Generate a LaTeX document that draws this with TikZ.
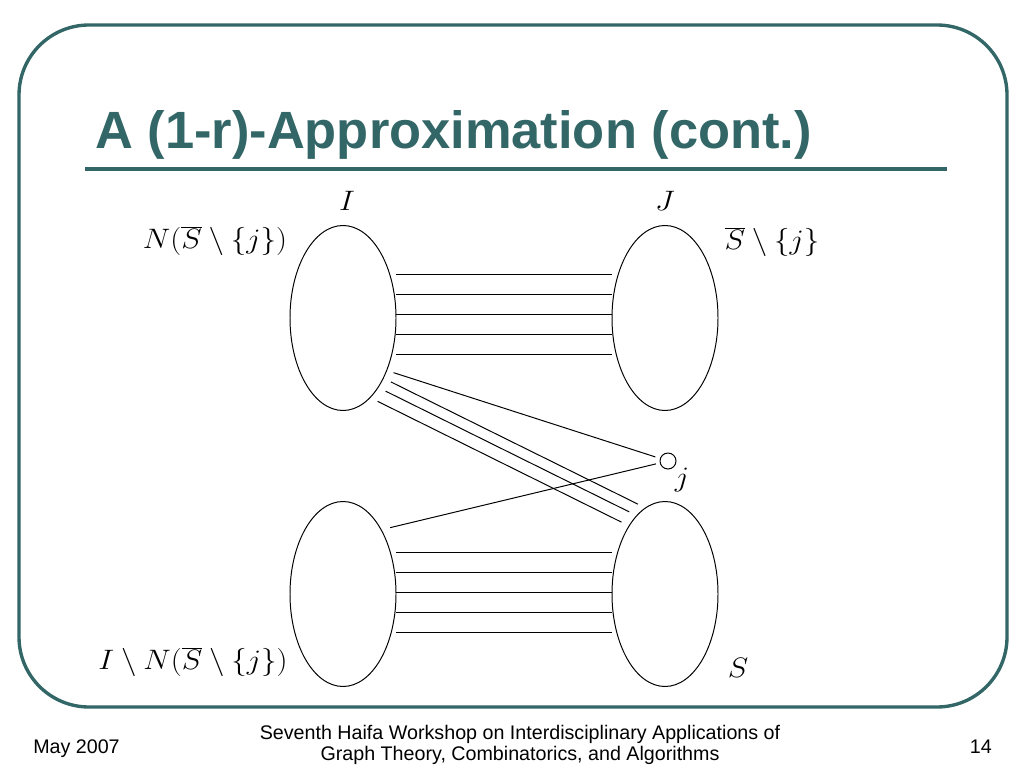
\RequirePackage{fix-cm}
\documentclass[tikz,border=0pt]{standalone}
\usepackage{fontspec}
\setmainfont{Liberation Sans}
\usetikzlibrary{shapes.geometric}
\definecolor{slide}{RGB}{51,102,102}

\begin{document}
\begin{tikzpicture}[
    set/.style={ellipse, draw=black, line width=0.7pt, inner sep=0pt, minimum width=2.65cm, minimum height=4.625cm},
    vertex/.style={circle, draw=black, line width=0.7pt, inner sep=0pt, minimum size=0.4cm},
    edge/.style={line width=0.7pt},
    cross/.style={edge, shorten <=0.2cm, shorten >=0.2cm},
    lbl/.style={font=\fontsize{20}{24}\selectfont, inner sep=0pt, xscale=1.1},
    foot/.style={font=\fontsize{14}{15}\selectfont, inner sep=0pt}
]
\useasboundingbox (0,0) rectangle (25.6,-19.2);

% Cadre et titre
\draw[slide, line width=2.4pt, rounded corners=1.75cm] (0.475,-0.625) rectangle (25.175,-17.675);
\node[anchor=base west, inner sep=0pt, text=slide, font=\fontsize{37.3}{40}\selectfont\bfseries] (title) at (2.375,-3.725) {A (1-r)-Approximation (cont.)};
\draw[slide, line width=2.8pt] (2.125,-4.225) -- (23.675,-4.225);

% Les quatre ensembles
\node[set] (I) at (8.575,-7.95) {};
\node[set] (J) at (16.625,-7.95) {};
\node[set] (R) at (8.575,-14.85) {};
\node[set] (S) at (16.625,-14.85) {};
\node[vertex] (j) at (16.7,-11.525) {};

% Etiquettes
\node[lbl] (lI) at (8.675,-5.025) {$I$};
\node[lbl] (lJ) at (16.625,-5.025) {$J$};
\node[lbl] (lN) at (5.375,-6.025) {$N(\overline{S}\setminus\{j\})$};
\node[lbl] (lSj) at (19.3,-6.05) {$\overline{S}\setminus\{j\}$};
\node[lbl] (lR) at (4.825,-16.55) {$I\setminus N(\overline{S}\setminus\{j\})$};
\node[lbl] (lS) at (18.45,-16.7) {$S$};
\node[lbl] (lj) at (17.05,-12.0) {$j$};

% Aretes paralleles
\foreach \dy in {1.1,0.6,0.1,-0.4,-0.9}
    \draw[edge] ([yshift=\dy cm]I.east) -- ([yshift=\dy cm]J.west);
\foreach \dy in {1.03,0.53,0.03,-0.47,-0.97}
    \draw[edge] ([yshift=\dy cm]R.east) -- ([yshift=\dy cm]S.west);

% Aretes croisees
\draw[edge, shorten <=0.17cm, shorten >=0.12cm] (I.-50.6) -- (j);
\draw[cross] (I.-56.6) -- (S.103.3);
\draw[cross] (I.-63.5) -- (S.110.5);
\draw[cross] (I.-71.5) -- (S.118.1);
\draw[edge, shorten <=0.1cm, shorten >=0.22cm] (j) -- (R.59.1);

% Pied de page
\node[foot, anchor=base west] (date) at (0.825,-18.825) {May 2007};
\node[foot, align=center] (conf) at (13,-18.62) {Seventh Haifa Workshop on Interdisciplinary Applications of\\Graph Theory, Combinatorics, and Algorithms};
\node[foot, anchor=base east] (page) at (24.8,-18.825) {14};

\end{tikzpicture}
\end{document}
